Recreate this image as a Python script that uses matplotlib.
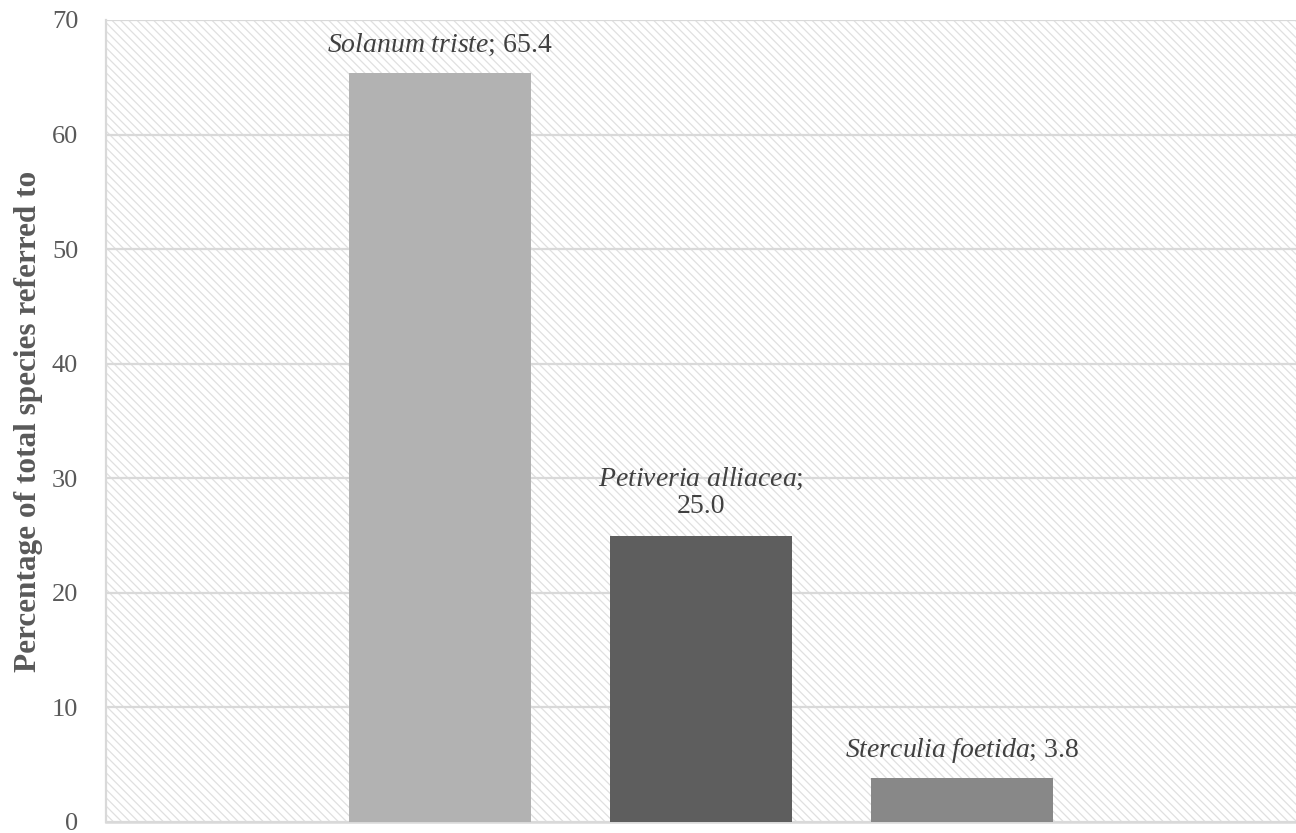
import matplotlib
matplotlib.use("Agg")
import matplotlib.pyplot as plt
from matplotlib.patches import Rectangle

species = ["Solanum triste", "Petiveria alliacea", "Sterculia foetida"]
values = [65.4, 25.0, 3.8]
label_texts = [r"$\mathit{Solanum\ triste}$; 65.4",
               r"$\mathit{Petiveria\ alliacea}$;" + "\n25.0",
               r"$\mathit{Sterculia\ foetida}$; 3.8"]
colors = ["#b2b2b2", "#5e5e5e", "#888888"]
yticks = [0, 10, 20, 30, 40, 50, 60, 70]

plt.rcParams["font.family"] = ["Liberation Serif", "DejaVu Serif"]
plt.rcParams["mathtext.fontset"] = "custom"
plt.rcParams["mathtext.rm"] = "Liberation Serif"
plt.rcParams["mathtext.it"] = "Liberation Serif:italic"
plt.rcParams["hatch.linewidth"] = 0.9

fig = plt.figure(figsize=(12.96, 8.33), dpi=100)
ax = fig.add_axes([106/1296, 11/833, 1 - 106/1296, (822-20)/833])

bg = Rectangle((0, 0), 1, 1, transform=ax.transAxes, facecolor="white",
               edgecolor="#e0e0e0", hatch="\\\\\\\\", linewidth=0, zorder=0)
ax.add_patch(bg)
ax.patch.set_visible(False)

x = list(range(len(values)))
ax.bar(x, values, width=0.70, color=colors, zorder=3)

ax.set_xlim(-1.28, 3.28)
ax.set_ylim(0, 70)
ax.set_yticks(yticks)
ax.yaxis.grid(True, color="#d9d9d9", linewidth=1.6, zorder=1)
ax.set_axisbelow(True)
ax.set_xticks([])
ax.tick_params(axis="y", length=0, pad=20, labelsize=19, labelcolor="#595959")

for s in ["top", "right"]:
    ax.spines[s].set_visible(False)
ax.spines["left"].set_color("#d9d9d9")
ax.spines["left"].set_linewidth(1.6)
ax.spines["bottom"].set_color("#d9d9d9")
ax.spines["bottom"].set_linewidth(1.8)

offsets = [2.45, 3.75, 2.45]
for xi, v, t, o in zip(x, values, label_texts, offsets):
    ax.text(xi, v + o, t, ha="center", va="center", fontsize=20,
            color="#404040", linespacing=1.1, zorder=4)

ax.set_ylabel("Percentage of total species referred to", fontsize=22.5,
              fontweight="bold", color="#595959")
ax.yaxis.set_label_coords(-0.053, 0.5)

fig.savefig("out.png", dpi=100)
